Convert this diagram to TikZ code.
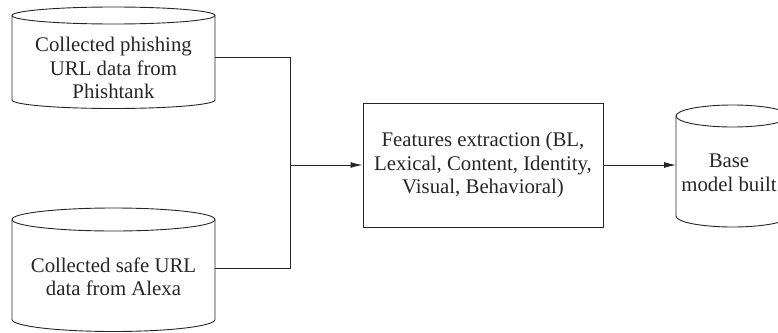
\documentclass[tikz,border=0pt]{standalone}
\usepackage{fontspec}
\setmainfont{Liberation Serif}
\usetikzlibrary{arrows.meta}
\tikzset{
  line/.style={line width=0.9pt, draw=black!85},
  flow/.style={line, -{Latex[length=12pt,width=6pt]}},
  label/.style={align=center, inner sep=0pt, font=\fontsize{20.8}{23.5}\selectfont, text=black!85},
  procbox/.style={line, minimum width=240pt, minimum height=124pt, inner sep=0pt},
}
% database cylinder: left x, right x, top centre y, bottom centre y, top ry, bottom ry
\newcommand\dbshape[6]{%
  \pgfmathsetmacro\dbcx{(#1+#2)/2}%
  \pgfmathsetmacro\dbrx{(#2-#1)/2}%
  \draw[line] (\dbcx,#3) ellipse[x radius=\dbrx pt, y radius=#5 pt];
  \draw[line] (#1,#3) -- (#1,#4)
     arc[start angle=180, end angle=0, x radius=\dbrx pt, y radius=#6 pt]
     -- (#2,#3);
}
\begin{document}
\begin{tikzpicture}[x=1pt, y=1pt, yscale=-1]
  \useasboundingbox (0,0) rectangle (778,332);

  % source databases
  \dbshape{12}{215}{15.5}{100}{8.5}{8.5}
  \node[label] (phish) at (113.5,68) {Collected phishing\\URL data from\\Phishtank};
  \coordinate (phishout) at (215,57);

  \dbshape{12}{215}{219.5}{319.5}{11.5}{12}
  \node[label] (safe) at (113.5,277) {Collected safe URL\\data from Alexa};
  \coordinate (safeout) at (215,268);

  % feature extraction
  \node[procbox, draw] (feat) at (483,165) {};
  \node[label] (feattext) at (feat.center) {Features extraction (BL,\\Lexical, Content, Identity,\\Visual, Behavioral)};

  % base model
  \dbshape{676}{789}{116}{216}{11}{11}
  \node[label] (base) at (729,173) {Base\\model built};
  \coordinate (basein) at (676,165);

  % connectors
  \coordinate (join) at (290,165);
  \draw[line] (phishout) -| (join);
  \draw[line] (safeout) -| (join);
  \draw[flow] (join) -- (feat.west);
  \draw[flow] (feat.east) -- (basein);
\end{tikzpicture}
\end{document}
